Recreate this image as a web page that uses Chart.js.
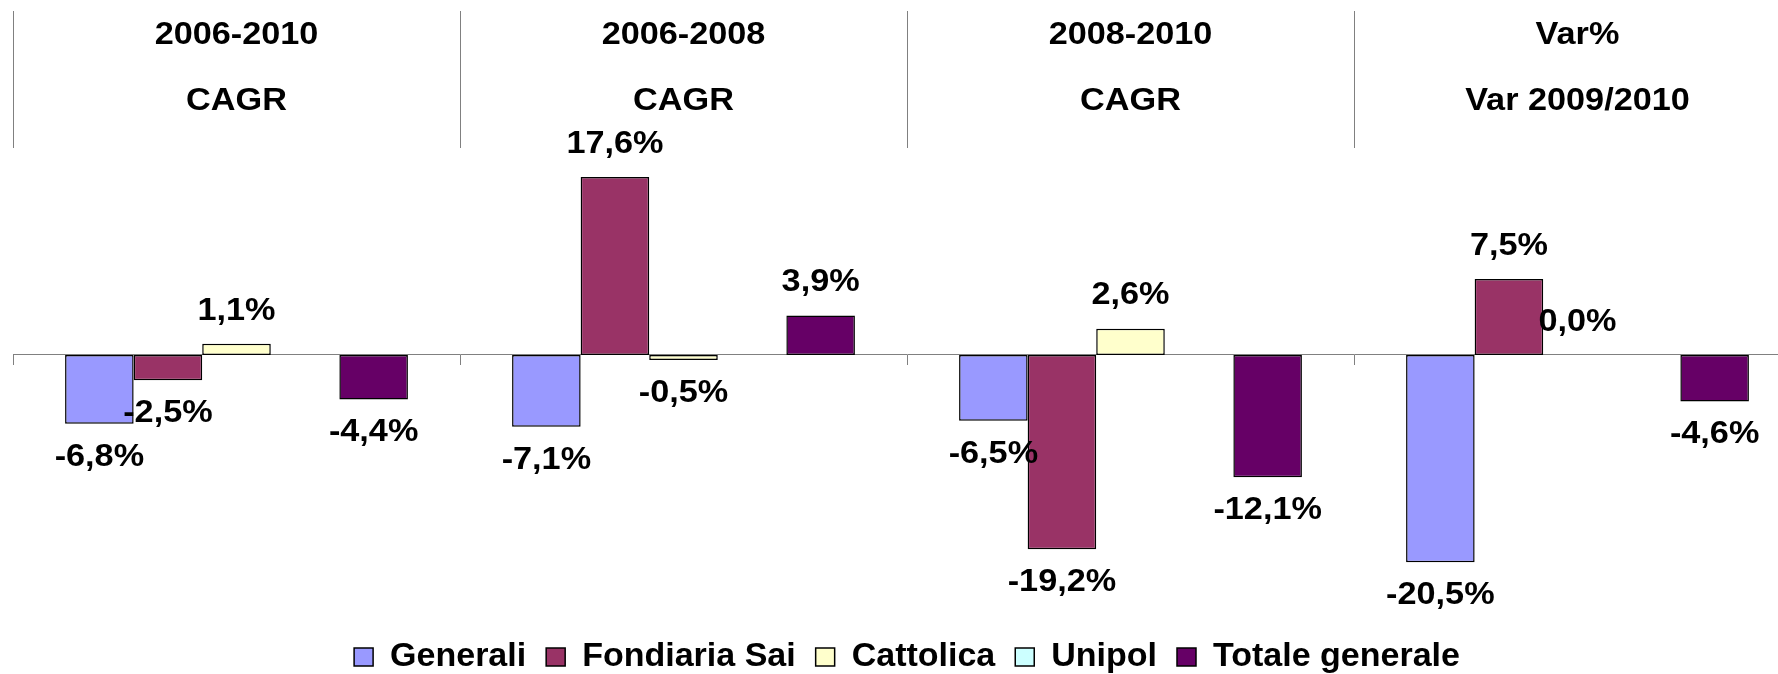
<!DOCTYPE html>
<html>
<head>
<meta charset="utf-8">
<script src="https://cdn.jsdelivr.net/npm/chart.js@4"></script>
<style>
    html, body { margin: 0; padding: 0; background: #fff; overflow: hidden; }
    #wrap { width: 1814px; height: 674px; }
</style>
</head>
<body>
<div id="wrap"><canvas id="myChart"></canvas></div>
<script>
// Data
const periods = ['2006-2010', '2006-2008', '2008-2010', 'Var%'];
const subHeaders = ['CAGR', 'CAGR', 'CAGR', 'Var 2009/2010'];
const generali = [-6.8, -7.1, -6.5, -20.5];
const fondiariaSai = [-2.5, 17.6, -19.2, 7.5];
const cattolica = [1.1, -0.5, 2.6, 0.0];
const unipol = [null, null, null, null];
const totaleGenerale = [-4.4, 3.9, -12.1, -4.6];

const FONT = "'Liberation Sans', Arial, sans-serif";
const STRETCH = 1.07; // the original text is a bit wider than Arial

function fmt(v) {
    return v.toFixed(1).replace('.', ',') + '%';
}

function wideText(ctx, txt, x, y) {
    ctx.save();
    ctx.translate(x, y);
    ctx.scale(STRETCH, 1);
    ctx.fillText(txt, 0, 0);
    ctx.restore();
}

// Header rows and separators above the plot, value labels at the bar ends
const decorPlugin = {
    id: 'decor',
    afterDraw(chart) {
        const ctx = chart.ctx;
        const x = chart.scales.x;
        const half = (x.getPixelForValue(1) - x.getPixelForValue(0)) / 2;
        ctx.save();
        ctx.strokeStyle = '#808080';
        ctx.lineWidth = 1;
        for (let i = 0; i <= periods.length; i++) {
            const px = Math.round(x.getPixelForValue(i) - half) + 0.5;
            ctx.beginPath();
            ctx.moveTo(px, 11);
            ctx.lineTo(px, 148);
            ctx.stroke();
        }
        ctx.fillStyle = '#000';
        ctx.font = 'bold 32px ' + FONT;
        ctx.textAlign = 'center';
        ctx.textBaseline = 'middle';
        periods.forEach((p, i) => {
            const cx = x.getPixelForValue(i);
            wideText(ctx, p, cx, 35);
            wideText(ctx, subHeaders[i], cx, 101);
        });

        chart.data.datasets.forEach((ds, di) => {
            const meta = chart.getDatasetMeta(di);
            meta.data.forEach((bar, i) => {
                const v = ds.data[i];
                if (v === null) return;
                const y = v >= 0 ? bar.y - 33 : bar.y + 33;
                wideText(ctx, fmt(v), bar.x, y);
            });
        });
        ctx.restore();
    }
};

function initChart() {
    const data = {
        labels: periods,
        datasets: [
            { label: 'Generali', data: generali, backgroundColor: '#9999FF' },
            { label: 'Fondiaria Sai', data: fondiariaSai, backgroundColor: '#993366' },
            { label: 'Cattolica', data: cattolica, backgroundColor: '#FFFFCC' },
            { label: 'Unipol', data: unipol, backgroundColor: '#CCFFFF' },
            { label: 'Totale generale', data: totaleGenerale, backgroundColor: '#660066' }
        ].map(d => Object.assign(d, {
            borderColor: '#000',
            borderWidth: 1.5,
            borderSkipped: false,
            categoryPercentage: 0.767,
            barPercentage: 1
        }))
    };

    const config = {
        type: 'bar',
        data: data,
        plugins: [decorPlugin],
        options: {
            responsive: true,
            maintainAspectRatio: false,
            animation: false,
            layout: { padding: { top: 150, left: 13, right: 13, bottom: -10 } },
            plugins: {
                legend: {
                    position: 'bottom',
                    labels: {
                        font: { family: FONT, size: 34, weight: 'bold' },
                        color: '#000',
                        boxWidth: 19,
                        boxHeight: 18,
                        padding: 20
                    }
                },
                tooltip: { enabled: false }
            },
            scales: {
                x: {
                    position: { y: 0 },
                    ticks: { display: false },
                    grid: { drawOnChartArea: false, tickLength: 10, color: '#808080' },
                    border: { color: '#808080', width: 1 }
                },
                y: {
                    min: -26.2,
                    max: 20.26,
                    ticks: { display: false },
                    grid: { display: false },
                    border: { display: false },
                    afterFit: s => { s.width = 0; }
                }
            }
        }
    };
    new Chart(document.getElementById('myChart'), config);
}

document.addEventListener('DOMContentLoaded', function() {
    initChart();
});
</script>
</body>
</html>
